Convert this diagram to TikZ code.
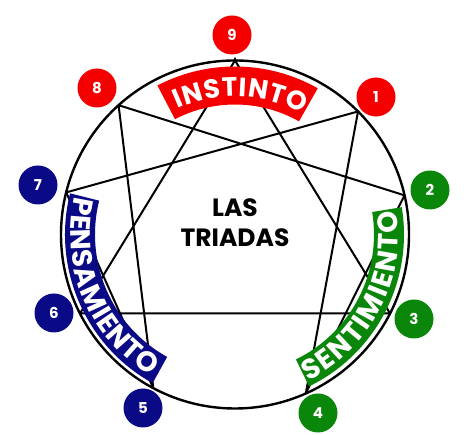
\documentclass[tikz,border=0pt]{standalone}
\usepackage{fontspec}
\setmainfont{Poppins}
\usetikzlibrary{calc,decorations.text}
\definecolor{instred}{RGB}{245,0,0}
\definecolor{pensblue}{RGB}{10,10,135}
\definecolor{sentgreen}{RGB}{10,135,10}
\newcommand\bannerfont{\fontsize{28}{28}\selectfont\bfseries}
\newcommand\topbannerfont{\fontsize{26.5}{26.5}\selectfont\bfseries}
\begin{document}
\begin{tikzpicture}[x=1pt,y=1pt,
  numnode/.style={circle, minimum size=39pt, inner sep=0pt, text=white, font=\fontsize{15}{15}\selectfont\bfseries},
  ring/.style={line width=2.4pt},
  chord/.style={line width=2pt, line join=round},
  bannertext/.style={decorate, decoration={text along path, text={#1}, text color=white, text align={fit to path}}},
]
\useasboundingbox (0,0) rectangle (472,435);
\coordinate (C) at (235,200.5);
\draw[ring] (C) circle[radius=174];
\foreach \n/\a in {9/90,1/45,2/13,3/-27,4/-66,5/-118,6/-153,7/166,8/132}
  \coordinate (p\n) at ($(C)+(\a:174)$);
\draw[chord] (p9) -- (p3) -- (p6) -- cycle;
\draw[chord] (p1) -- (p4) -- (p2) -- (p8) -- (p5) -- (p7) -- cycle;
\fill (232.5,373) -- (237.5,373) -- (235,378) -- cycle;
% banners
\fill[instred] ($(C)+(117.5:168)$) arc[start angle=117.5,end angle=60.5,radius=168]
  -- ($(C)+(60.5:130)$) arc[start angle=60.5,end angle=117.5,radius=130] -- cycle;
\fill[pensblue] ($(C)+(166:170)$) arc[start angle=166,end angle=241,radius=170]
  -- ($(C)+(241:140)$) arc[start angle=241,end angle=166,radius=140] -- cycle;
\fill[sentgreen] ($(C)+(-64:169)$) arc[start angle=-64,end angle=9.3,radius=169]
  -- ($(C)+(9.3:139)$) arc[start angle=9.3,end angle=-64,radius=139] -- cycle;
\begin{scope}
\topbannerfont
\path[bannertext=INSTINTO] ($(C)+(114.5:138)$) arc[start angle=114.5,end angle=61,radius=138];
\end{scope}
\begin{scope}
\bannerfont
\path[bannertext=PENSAMIENTO] ($(C)+(166.5:164.5)$) arc[start angle=166.5,end angle=239,radius=164.5];
\path[bannertext=SENTIMIENTO] ($(C)+(-63.5:163.5)$) arc[start angle=-63.5,end angle=8.5,radius=163.5];
\end{scope}
% title
\node[font=\fontsize{25}{30}\selectfont\bfseries, align=center] (title) at (235,212) {LAS\\TRIADAS};
% numbers
\node[numnode, fill=instred] (n9) at (232,400) {9};
\node[numnode, fill=instred] (n8) at (97,347) {8};
\node[numnode, fill=instred] (n1) at (376,338) {1};
\node[numnode, fill=sentgreen] (n2) at (430,245) {2};
\node[numnode, fill=sentgreen] (n3) at (414,116) {3};
\node[numnode, fill=sentgreen] (n4) at (318,22) {4};
\node[numnode, fill=pensblue] (n5) at (143,27) {5};
\node[numnode, fill=pensblue] (n6) at (54,122) {6};
\node[numnode, fill=pensblue] (n7) at (38,250) {7};
\end{tikzpicture}
\end{document}
